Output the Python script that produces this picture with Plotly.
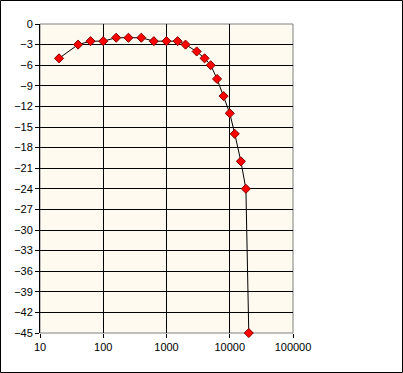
import plotly.graph_objects as go

freq_hz = [20, 40, 63, 100, 160, 250, 400, 630, 1000, 1500, 2000, 3000, 4000,
           5000, 6300, 8000, 10000, 12000, 15000, 18000, 20000]
level_db = [-5, -3, -2.5, -2.5, -2, -2, -2, -2.5, -2.5, -2.5, -3, -4, -5,
            -6, -8, -10.5, -13, -16, -20, -24, -45]
y_ticks = list(range(0, -46, -3))
x_ticks = [10, 100, 1000, 10000, 100000]
x_tick_labels = ["10", "100", "1000", "10000", "100000"]

W, H = 403, 373
L, R, T, B = 40, 293, 24, 333

fig = go.Figure()
fig.add_trace(go.Scatter(
    x=freq_hz, y=level_db, mode="lines+markers",
    line=dict(color="black", width=1),
    marker=dict(symbol="diamond", size=7, color="#FF0000",
                line=dict(color="#800000", width=1)),
    cliponaxis=False, showlegend=False,
))

def px_to_paper_x(px):
    return (px - L) / (R - L)

def px_to_paper_y(py):
    return (B - py) / (B - T)

fig.update_layout(
    width=W, height=H,
    margin=dict(l=L, r=W - R, t=T, b=H - B),
    paper_bgcolor="white",
    plot_bgcolor="#FFFAEF",
    font=dict(family="Liberation Sans, Arial, sans-serif", size=11, color="black"),
    xaxis=dict(
        type="log", range=[1, 5],
        tickvals=x_ticks, ticktext=x_tick_labels,
        showgrid=True, gridcolor="black", gridwidth=1,
        ticks="outside", ticklen=4, tickcolor="black",
        showline=False, zeroline=False,
    ),
    yaxis=dict(
        range=[-45, 0], tickvals=y_ticks,
        showgrid=True, gridcolor="black", gridwidth=1,
        ticks="outside", ticklen=4, tickcolor="black",
        showline=True, linecolor="black", linewidth=1,
        zeroline=False,
    ),
    shapes=[
        dict(type="rect", xref="paper", yref="paper",
             x0=0, x1=1, y0=0, y1=1,
             line=dict(color="#808080", width=1), layer="below"),
        dict(type="rect", xref="paper", yref="paper",
             x0=px_to_paper_x(0.5), x1=px_to_paper_x(W - 0.5),
             y0=px_to_paper_y(H - 0.5), y1=px_to_paper_y(0.5),
             line=dict(color="black", width=1)),
    ],
)

fig.write_html("out.html",
               config={"displayModeBar": False},
               post_script="document.body.style.margin='0';document.body.style.overflow='hidden';")
